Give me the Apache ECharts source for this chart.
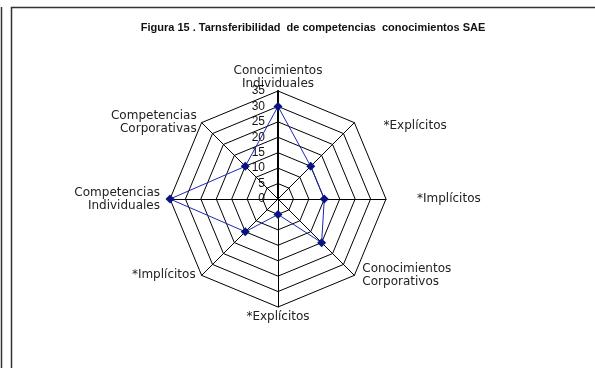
<!DOCTYPE html>
<html>
<head>
<meta charset="utf-8">
<script src="https://cdn.jsdelivr.net/npm/echarts@6/dist/echarts.min.js"></script>
<style>
  html, body { margin: 0; padding: 0; background: #fff; }
  #chart { width: 595px; height: 368px; }
</style>
</head>
<body>
<div id="chart"></div>
<script>
// ejes del radar, en sentido horario desde arriba
var indicators = [
  'Conocimientos\nIndividuales',
  '*Explícitos',
  '*Implícitos',
  'Conocimientos\nCorporativos',
  '*Explícitos',
  '*Implícitos',
  'Competencias\nIndividuales',
  'Competencias\nCorporativas'
]
var values = [30, 15, 15, 20, 5, 15, 35, 15]
var axisMax = 35
var axisSplits = 7

// colocacion de cada nombre (mismo orden que indicators)
var nameLayout = [
  { gap: 1, style: { verticalAlign: 'bottom' } },
  { gap: -4, style: { align: 'left', verticalAlign: 'middle', padding: [0, 0, 0, 32] } },
  { gap: 31, style: { align: 'left', verticalAlign: 'middle', padding: [2, 0, 0, 0] } },
  { gap: 0, style: { align: 'left', verticalAlign: 'middle', padding: [6, 0, 0, 8] } },
  { gap: 3, style: { align: 'center', verticalAlign: 'top' } },
  { gap: 0, style: { align: 'right', verticalAlign: 'middle', padding: [0, 6, 10, 0] } },
  { gap: 10, style: { align: 'right', verticalAlign: 'middle', padding: [6, 0, 0, 0] } },
  { gap: 0, style: { align: 'right', verticalAlign: 'middle', padding: [6, 5, 0, 0] } }
]

var chart = echarts.init(document.getElementById('chart'))

// echarts recorre los ejes en sentido antihorario: se invierte el orden
function ccw(arr) {
  return [arr[0]].concat(arr.slice(1).reverse())
}

var indicatorList = indicators.map(function (name, i) {
  var item = {
    name: name,
    max: axisMax,
    min: 0,
    nameGap: nameLayout[i].gap,
    nameMoveOverlap: false,
    nameTextStyle: nameLayout[i].style
  }
  if (i === 0) {
    // solo el eje superior lleva la escala
    item.axisLabel = { show: true }
    item.axisLine = { lineStyle: { width: 2 } }
  }
  return item
})

var option = {
  backgroundColor: '#fff',
  animation: false,
  title: {
    text: 'Figura 15 . Tarnsferibilidad  de competencias  conocimientos SAE',
    left: 308,
    top: 17,
    textAlign: 'center',
    textStyle: {
      fontFamily: 'Liberation Sans, Arial, sans-serif',
      fontSize: 11,
      fontWeight: 'bold',
      color: '#111'
    }
  },
  radar: {
    center: [278, 199],
    radius: 108,
    startAngle: 90,
    shape: 'polygon',
    splitNumber: axisSplits,
    indicator: ccw(indicatorList),
    axisName: {
      color: '#222',
      fontFamily: 'DejaVu Sans, sans-serif',
      fontSize: 12,
      lineHeight: 13
    },
    axisLabel: {
      show: false,
      color: '#111',
      fontFamily: 'Liberation Sans, Arial, sans-serif',
      fontSize: 12,
      margin: 13
    },
    axisTick: { show: false },
    axisLine: { lineStyle: { color: '#000', width: 1 } },
    splitLine: { lineStyle: { color: '#000', width: 1 } },
    splitArea: { show: false }
  },
  graphic: [
    {
      type: 'line',
      shape: { x1: 1.5, y1: 7, x2: 1.5, y2: 368 },
      style: { stroke: '#333', lineWidth: 1.5 }
    },
    {
      type: 'polyline',
      shape: { points: [[11.5, 368], [11.5, 7.5], [595, 7.5]] },
      style: { stroke: '#333', lineWidth: 1.5, fill: null }
    }
  ],
  series: [
    {
      type: 'radar',
      symbol: 'diamond',
      symbolSize: 9,
      lineStyle: { color: '#1c28b0', width: 1 },
      itemStyle: { color: '#0a1480' },
      data: [{ value: ccw(values), name: 'SAE' }]
    }
  ]
}

chart.setOption(option)
</script>
</body>
</html>
